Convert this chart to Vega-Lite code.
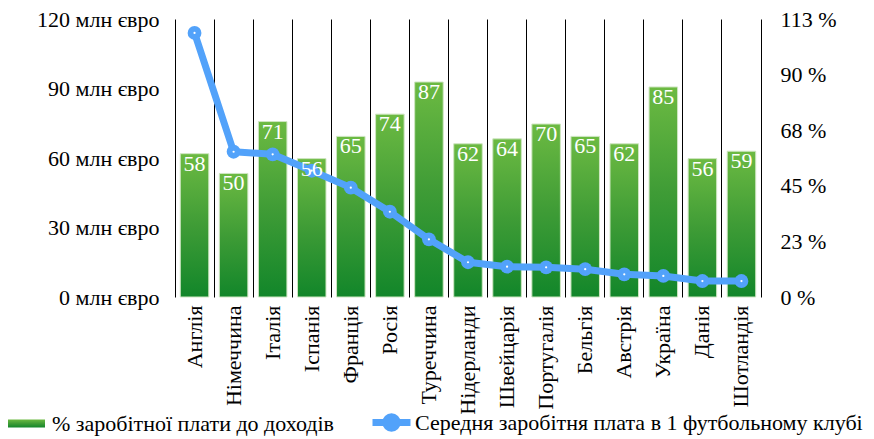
{
  "$schema": "https://vega.github.io/schema/vega-lite/v6.json",
  "width": 586,
  "height": 278,
  "autosize": {"type": "none"},
  "padding": {"left": 175, "top": 19, "right": 113, "bottom": 142},
  "background": "white",
  "config": {
    "view": {"stroke": null},
    "font": "Liberation Serif",
    "axis": {"labelFont": "Liberation Serif", "labelFontSize": 22, "labelColor": "#000", "titleFont": "Liberation Serif"},
    "legend": {"labelFont": "Liberation Serif", "labelFontSize": 22, "labelColor": "#000", "labelLimit": 600}
  },
  "data": {
    "values": [
      {"country": "Англія", "pct": 58, "salary": 114},
      {"country": "Німеччина", "pct": 50, "salary": 62.7},
      {"country": "Італія", "pct": 71, "salary": 61.6},
      {"country": "Іспанія", "pct": 56, "salary": 54.5},
      {"country": "Франція", "pct": 65, "salary": 47.2},
      {"country": "Росія", "pct": 74, "salary": 36.8},
      {"country": "Туреччина", "pct": 87, "salary": 24.9},
      {"country": "Нідерланди", "pct": 62, "salary": 15},
      {"country": "Швейцарія", "pct": 64, "salary": 13.1},
      {"country": "Португалія", "pct": 70, "salary": 12.8},
      {"country": "Бельгія", "pct": 65, "salary": 12},
      {"country": "Австрія", "pct": 62, "salary": 9.8},
      {"country": "Україна", "pct": 85, "salary": 9.1},
      {"country": "Данія", "pct": 56, "salary": 6.9},
      {"country": "Шотландія", "pct": 59, "salary": 6.9}
    ]
  },
  "encoding": {
    "x": {
      "field": "country",
      "type": "nominal",
      "sort": null,
      "title": null,
      "scale": {"paddingInner": 0, "paddingOuter": 0},
      "axis": {
        "labelAngle": -90,
        "grid": true,
        "gridColor": "#000",
        "gridWidth": 1,
        "gridOpacity": 1,
        "bandPosition": 0,
        "ticks": false,
        "domain": false,
        "labelPadding": 8
      }
    }
  },
  "layer": [
    {
      "mark": {
        "type": "bar",
        "width": {"band": 0.73},
        "stroke": "#cfe6c2",
        "strokeWidth": 1,
        "fill": {"gradient": "linear", "x1": 0, "y1": 0, "x2": 0, "y2": 1,
                 "stops": [{"offset": 0, "color": "#6cba42"}, {"offset": 0.5, "color": "#3f9c36"}, {"offset": 1, "color": "#12862a"}]}
      },
      "encoding": {
        "y": {
          "field": "pct",
          "type": "quantitative",
          "title": null,
          "scale": {"domain": [0, 112.5], "nice": false, "zero": true},
          "axis": {
            "orient": "right",
            "values": [0, 22.5, 45, 67.5, 90, 112.5],
            "labelExpr": "format(datum.value, '.0f') + ' %'",
            "grid": false,
            "ticks": false,
            "domain": true,
            "domainColor": "#000",
            "domainWidth": 1,
            "labelPadding": 19
          }
        },
        "opacity": {
          "datum": "% заробітної плати до доходів",
          "scale": {"range": [1]},
          "legend": {
            "orient": "none",
            "legendX": -167,
            "legendY": 386,
            "title": null,
            "symbolType": "M-1,-0.22H1V0.22H-1Z",
            "symbolSize": 1369,
            "symbolStrokeWidth": 0,
            "symbolOpacity": 1,
            "labelOffset": 7,
            "encode": {
              "symbols": {
                "update": {
                  "fill": {"value": {"gradient": "linear", "x1": 0, "y1": 0, "x2": 0, "y2": 1,
                    "stops": [{"offset": 0, "color": "#6cba42"}, {"offset": 1, "color": "#2f9632"}]}},
                  "opacity": {"value": 1}
                }
              }
            }
          }
        }
      }
    },
    {
      "encoding": {
        "y": {
          "field": "salary",
          "type": "quantitative",
          "title": null,
          "scale": {"domain": [0, 120], "nice": false},
          "axis": {
            "orient": "left",
            "values": [0, 30, 60, 90, 120],
            "labelExpr": "datum.value + ' млн євро'",
            "grid": false,
            "ticks": false,
            "domain": false,
            "labelPadding": 16
          }
        }
      },
      "layer": [
        {
          "mark": {"type": "line", "strokeWidth": 7, "strokeJoin": "round", "strokeCap": "round"},
          "encoding": {
            "stroke": {
              "datum": "Середня заробітня плата в 1 футбольному клубі",
              "scale": {"range": ["#52a2fa"]},
              "legend": {
                "orient": "none",
                "legendX": 194,
                "legendY": 381,
                "title": null,
                "symbolType": "M-1,0H1M-0.3,0A0.3,0.3 0 1,0 0.3,0A0.3,0.3 0 1,0 -0.3,0Z",
                "symbolSize": 1444,
                "symbolStrokeWidth": 7,
                "symbolFillColor": "#52a2fa",
                "labelOffset": 1
              }
            }
          }
        },
        {
          "mark": {"type": "point", "shape": "circle", "filled": true, "fill": "#52a2fa", "size": 190, "opacity": 1},
          "encoding": {}
        },
        {
          "mark": {"type": "point", "shape": "circle", "filled": true, "fill": "#ffffff", "size": 5, "opacity": 1},
          "encoding": {}
        }
      ]
    },
    {
      "mark": {"type": "text", "color": "#ffffff", "font": "Liberation Serif", "fontSize": 22, "baseline": "top", "dy": 0},
      "encoding": {
        "y": {"field": "pct", "type": "quantitative", "scale": {"domain": [0, 112.5], "nice": false}, "axis": null},
        "text": {"field": "pct", "type": "quantitative"}
      }
    }
  ],
  "resolve": {"scale": {"y": "independent"}}
}
